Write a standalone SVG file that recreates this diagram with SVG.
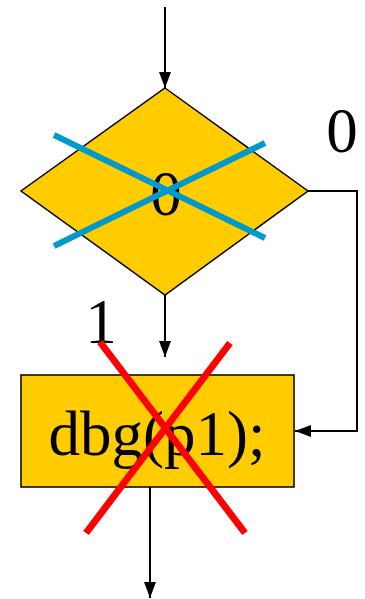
<svg xmlns="http://www.w3.org/2000/svg" width="365" height="599" viewBox="0 0 365 599">
<style>
.shape{fill:#ffcc00;stroke:#000;stroke-width:1.5}
.conn{fill:none;stroke:#000;stroke-width:2}
.t{font-family:"Liberation Serif","Times New Roman",serif;font-size:63px;fill:#000;text-anchor:middle}
</style>
<defs>
<marker id="ah" markerWidth="16" markerHeight="16" viewBox="0 0 16 16" refX="16" refY="8" orient="auto" markerUnits="userSpaceOnUse">
<path d="M0,2 L16,8 L0,14 Z" fill="#000"/>
</marker>
</defs>
<g id="connectors">
<line class="conn" x1="165" y1="7" x2="165" y2="88" marker-end="url(#ah)"/>
<line class="conn" x1="165" y1="295" x2="165" y2="357" marker-end="url(#ah)"/>
<polyline class="conn" points="308,191 357,191 357,431 295,431" marker-end="url(#ah)"/>
<line class="conn" x1="150" y1="487" x2="150" y2="598" marker-end="url(#ah)"/>
</g>
<g id="decision">
<polygon class="shape" points="165,88 308,191 165,295 21,191"/>
<text class="t" x="166" y="215">0</text>
</g>
<g id="cross-blue">
<line x1="54" y1="135" x2="265" y2="238" stroke="#0099cc" stroke-width="6"/>
<line x1="54" y1="246" x2="265" y2="143" stroke="#0099cc" stroke-width="6"/>
</g>
<g id="label0"><text class="t" x="342" y="152">0</text></g>
<g id="label1"><text class="t" x="101" y="343">1</text></g>
<g id="process">
<rect class="shape" x="21" y="375" width="273" height="112"/>
<text class="t" x="157" y="455">dbg(p1);</text>
</g>
<g id="cross-red">
<line x1="100" y1="342" x2="245" y2="533" stroke="#ff0000" stroke-width="7"/>
<line x1="230" y1="343" x2="86" y2="533" stroke="#ff0000" stroke-width="7"/>
</g>
</svg>
